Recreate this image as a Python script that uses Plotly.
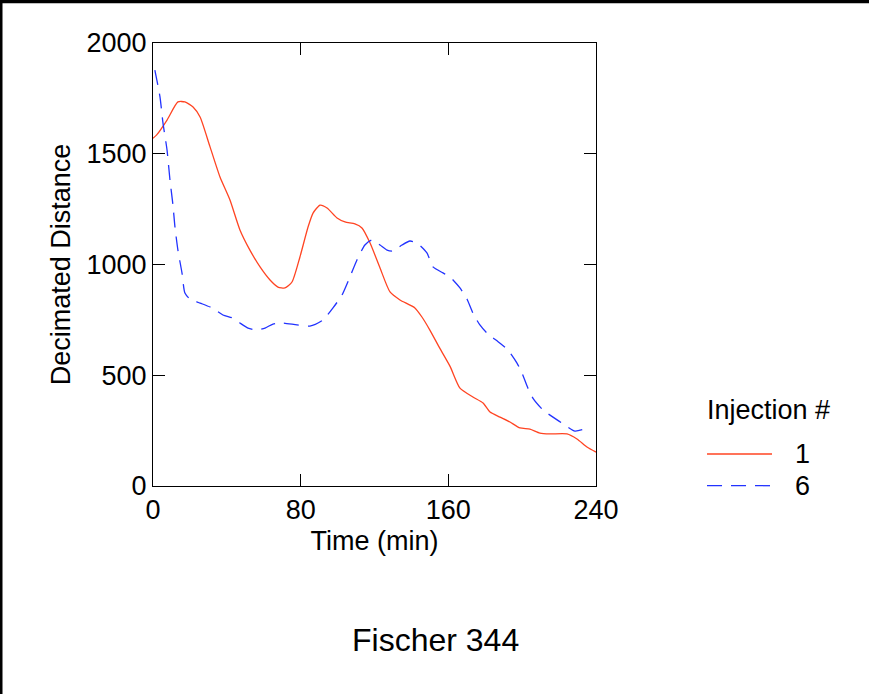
import plotly.graph_objects as go

# Injection 1 (solid red)
t_inj1 = [0, 2, 7.6, 13.5, 17.3, 21.7, 25.5, 30.9, 36.3, 41.7, 47.1, 52.5, 58, 63.4,
          67.7, 71.5, 75.3, 79.6, 84, 86.7, 90.5, 94.3, 99.7, 104, 109.4, 113.2,
          117.6, 123, 128.4, 133.8, 141.9, 145.7, 150, 155.5, 161, 166.3, 173.3,
          178.8, 182.6, 188, 193.4, 198.8, 204.2, 209.6, 215, 224.3, 229.7, 235.1, 240]
d_inj1 = [1570, 1585, 1652, 1734, 1734, 1711, 1666, 1531, 1395, 1291, 1156, 1065, 989, 930,
          898, 894, 921, 1034, 1169, 1232, 1268, 1255, 1210, 1192, 1183, 1165,
          1097, 984, 876, 840, 804, 763, 704, 620, 539, 442, 402,
          375, 334, 311, 289, 262, 257, 239, 235, 235, 212, 176, 153]

# Injection 6 (dashed blue)
t_inj6 = [1, 3.8, 5.4, 7.6, 9.2, 10.8, 11.9, 13.5, 15.7, 17.3, 20, 25.5, 32, 37.9, 43.3,
          47.1, 51.5, 56.3, 60.7, 65, 70.4, 78, 85, 92, 97.5, 102.4, 106.7, 110.5,
          114.8, 118.6, 123, 126.8, 130, 134.9, 139.2, 143, 148.4, 151.7, 157.1,
          160.9, 166.3, 170.1, 173.3, 177.1, 180.9, 188, 192.3, 197.2, 199.9, 203.1,
          205.8, 211.3, 216.7, 223.2, 228.6, 235.6]
d_inj6 = [1878, 1756, 1639, 1517, 1381, 1269, 1169, 1065, 962, 871, 844, 826, 804, 772, 758,
          736, 713, 704, 713, 731, 736, 727, 722, 749, 804, 862, 944, 1020,
          1088, 1111, 1088, 1065, 1061, 1088, 1106, 1097, 1052, 989, 962,
          944, 894, 844, 781, 727, 691, 645, 614, 555, 510, 442,
          397, 343, 311, 275, 248, 262]

x_ticks = [0, 80, 160, 240]
y_ticks = [0, 500, 1000, 1500, 2000]

series_names = ["1", "6"]
series_colors = ["#ff4422", "#2233ff"]
series_dash = ["solid", "15px,9px"]
legend_title = "Injection #"

FONT = "Liberation Sans, Arial, sans-serif"
FS = 27

fig = go.Figure()
for name, xs, ys, col, dash in zip(series_names, [t_inj1, t_inj6], [d_inj1, d_inj6],
                                   series_colors, series_dash):
    fig.add_trace(go.Scatter(
        x=xs, y=ys, name=name, mode="lines", showlegend=False,
        line=dict(color=col, width=1.3, shape="spline", smoothing=0.6, dash=dash),
    ))

axis_common = dict(
    showline=True, linecolor="black", linewidth=1, mirror="ticks",
    ticks="inside", ticklen=12, tickcolor="black", tickwidth=1,
    showgrid=False, zeroline=False,
    tickfont=dict(family=FONT, size=FS, color="black"),
)

fig.update_xaxes(
    range=[0, 240], tickvals=x_ticks, ticktext=[str(v) for v in x_ticks],
    title=dict(text="Time (min)", font=dict(family=FONT, size=FS, color="black"), standoff=6),
    automargin=False, **axis_common,
)
fig.update_yaxes(
    range=[0, 2000], tickvals=y_ticks, ticktext=[str(v) for v in y_ticks],
    title=dict(text="Decimated Distance", font=dict(family=FONT, size=FS, color="black"), standoff=8),
    automargin=False, **axis_common,
)

# page frame lines along the top and left edges
fig.add_shape(type="line", xref="paper", yref="paper",
              x0=-0.3454, x1=1.62, y0=1.0935, y1=1.0935,
              line=dict(color="black", width=3.5))
fig.add_shape(type="line", xref="paper", yref="paper",
              x0=-0.34255, x1=-0.34255, y0=1.1, y1=-0.48,
              line=dict(color="black", width=2.5))

# legend block to the right of the plot
leg_x0, leg_x1, leg_text_x = 1.2506, 1.3973, 1.4447
leg_rows_y = [0.0722, 0.0007]
fig.add_annotation(text=legend_title, xref="paper", yref="paper",
                   x=1.2461, y=0.1716, xanchor="left", yanchor="middle",
                   showarrow=False, font=dict(family=FONT, size=FS, color="black"))
for name, col, dash, ry in zip(series_names, series_colors, series_dash, leg_rows_y):
    fig.add_shape(type="line", xref="paper", yref="paper",
                  x0=leg_x0, x1=leg_x1, y0=ry, y1=ry,
                  line=dict(color=col, width=1.3, dash=dash))
    fig.add_annotation(text=name, xref="paper", yref="paper",
                       x=leg_text_x, y=ry, xanchor="left", yanchor="middle",
                       showarrow=False, font=dict(family=FONT, size=FS, color="black"))

fig.add_annotation(text="Fischer 344", xref="paper", yref="paper",
                   x=0.6366, y=-0.3476, xanchor="center", yanchor="middle",
                   showarrow=False, font=dict(family=FONT, size=32, color="black"))

fig.update_layout(
    width=869, height=694,
    margin=dict(l=153, r=273, t=43, b=208),
    paper_bgcolor="white", plot_bgcolor="white",
    showlegend=False,
)

fig.write_html("out.html")
